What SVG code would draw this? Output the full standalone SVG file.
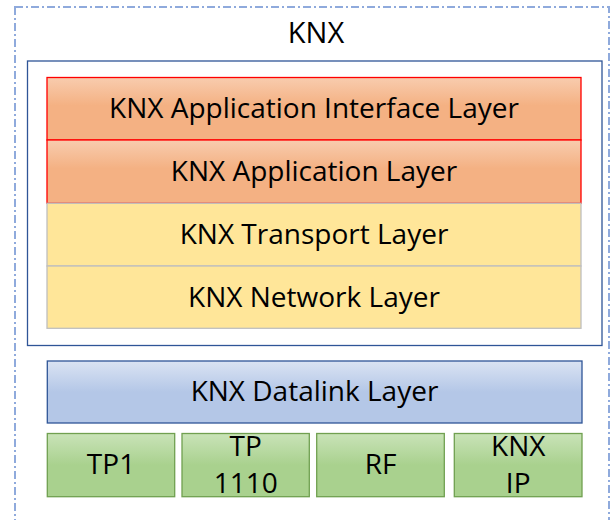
<svg xmlns="http://www.w3.org/2000/svg" width="611" height="520" viewBox="0 0 611 520">
<style>
text{font-family:"Open Sans","Liberation Sans",sans-serif;font-size:28px;fill:#000;text-anchor:middle}
.orange{fill:url(#gO);stroke:#FF0000;stroke-width:1.3}
.yellow{fill:#FFE699;stroke:#BFBFBF;stroke-width:1.3}
.blue{fill:url(#gB);stroke:#2F5597;stroke-width:1.3}
.green{fill:url(#gG);stroke:#70A050;stroke-width:1.3}
</style>
<defs>
<linearGradient id="gO" x1="0" y1="0" x2="0" y2="1"><stop offset="0" stop-color="#F8CCAE"/><stop offset="0.45" stop-color="#F4B183"/><stop offset="1" stop-color="#F4B183"/></linearGradient>
<linearGradient id="gB" x1="0" y1="0" x2="0" y2="1"><stop offset="0" stop-color="#DAE3F3"/><stop offset="0.5" stop-color="#B4C7E7"/><stop offset="1" stop-color="#B4C7E7"/></linearGradient>
<linearGradient id="gG" x1="0" y1="0" x2="0" y2="1"><stop offset="0" stop-color="#C9E3B8"/><stop offset="0.5" stop-color="#A9D18E"/><stop offset="1" stop-color="#A9D18E"/></linearGradient>
</defs>
<g id="outer">
<rect x="15" y="7" width="594" height="530" fill="none" stroke="#8FAADC" stroke-width="2" stroke-dasharray="8,3,2,3"/>
<text x="316" y="43" style="font-size:29px">KNX</text>
</g>
<g id="stack">
<rect x="27.5" y="61" width="574.5" height="284.5" fill="#fff" stroke="#2F5597" stroke-width="1.3"/>
</g>
<g id="app-interface">
<rect class="orange" x="47" y="77.5" width="534" height="62.5"/>
<text x="314" y="118">KNX Application Interface Layer</text>
</g>
<g id="application">
<rect class="orange" x="47" y="140" width="534" height="63.3"/>
<text x="314" y="181">KNX Application Layer</text>
</g>
<g id="transport">
<rect class="yellow" x="47" y="203.3" width="534" height="62.7"/>
<text x="314" y="244">KNX Transport Layer</text>
</g>
<g id="network">
<rect class="yellow" x="47" y="266" width="534" height="62.3"/>
<text x="314" y="307">KNX Network Layer</text>
</g>
<g id="datalink">
<rect class="blue" x="47.3" y="361" width="534.7" height="62"/>
<text x="314.5" y="401">KNX Datalink Layer</text>
</g>
<g id="tp1">
<rect class="green" x="47.3" y="433.5" width="127.4" height="63.2"/>
<text x="111" y="474">TP1</text>
</g>
<g id="tp1110">
<rect class="green" x="182" y="433.5" width="127.3" height="63.2"/>
<text x="245.7" y="456">TP</text>
<text x="245.7" y="493">1110</text>
</g>
<g id="rf">
<rect class="green" x="316.7" y="433.5" width="127.6" height="63.2"/>
<text x="380.5" y="474">RF</text>
</g>
<g id="knxip">
<rect class="green" x="454.3" y="433.5" width="127.7" height="63.2"/>
<text x="518.2" y="456">KNX</text>
<text x="518.2" y="493">IP</text>
</g>
<g id="connectors"/>
</svg>
